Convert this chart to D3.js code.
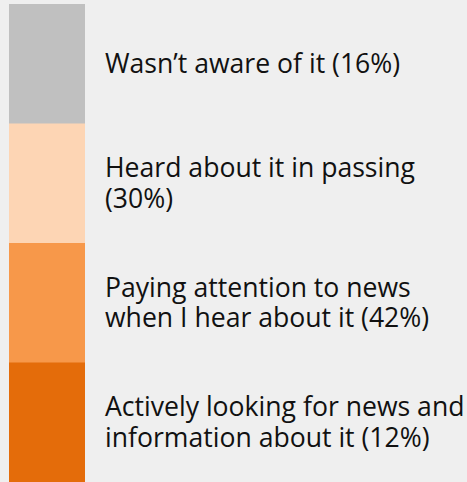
<!DOCTYPE html>
<html>
<head>
<meta charset="utf-8">
<script src="https://cdn.jsdelivr.net/npm/d3@7"></script>
<style>
  html, body { margin: 0; padding: 0; background: #efefef; }
  svg { display: block; }
</style>
</head>
<body>
<div id="chart"></div>
<script>
// awareness levels, top to bottom
const categories = ['unaware', 'passing', 'attention', 'looking'];
const shares = [16, 30, 42, 12];
const labelLines = [
  ['Wasn\u2019t aware of it'],
  ['Heard about it in passing'],
  ['Paying attention to news', 'when I hear about it'],
  ['Actively looking for news and', 'information about it']
];
const colors = ['#c0c0c0', '#fdd5b4', '#f7984a', '#e46c0a'];

const width = 467;
const height = 482;
const barX = 9, barW = 76, textX = 105, lineH = 30.5;

const svg = d3.select('#chart')
  .append('svg')
  .attr('width', width)
  .attr('height', height);

svg.append('rect')
  .attr('width', width)
  .attr('height', height)
  .attr('fill', '#efefef');

const y = d3.scaleBand()
  .domain(categories)
  .range([4, height])
  .paddingInner(0);

const color = d3.scaleOrdinal()
  .domain(categories)
  .range(colors);

svg.selectAll('.seg')
  .data(categories)
  .enter().append('rect')
  .attr('class', 'seg')
  .attr('x', barX)
  .attr('y', d => y(d))
  .attr('width', barW)
  .attr('height', y.bandwidth() + 0.5)
  .attr('fill', d => color(d));

const rows = categories.map((c, i) => {
  const lines = labelLines[i].slice();
  const pct = '(' + shares[i] + '%)';
  if (lines.length === 1 && lines[0].length < 20) lines[0] += ' ' + pct;
  else if (lines.length === 1) lines.push(pct);
  else lines[lines.length - 1] += ' ' + pct;
  return { cat: c, lines };
});

const labels = svg.selectAll('.label')
  .data(rows)
  .enter().append('text')
  .attr('class', 'label')
  .attr('x', textX)
  .attr('font-family', '"Open Sans", sans-serif')
  .attr('font-size', 26.6)
  .attr('fill', '#111');

labels.each(function(d) {
  const cy = y(d.cat) + y.bandwidth() / 2;
  const first = cy - (d.lines.length - 1) * lineH / 2;
  d3.select(this).selectAll('tspan')
    .data(d.lines)
    .enter().append('tspan')
    .attr('x', textX)
    .attr('y', (l, j) => first + j * lineH)
    .attr('dy', '0.35em')
    .text(l => l);
});
</script>
</body>
</html>
